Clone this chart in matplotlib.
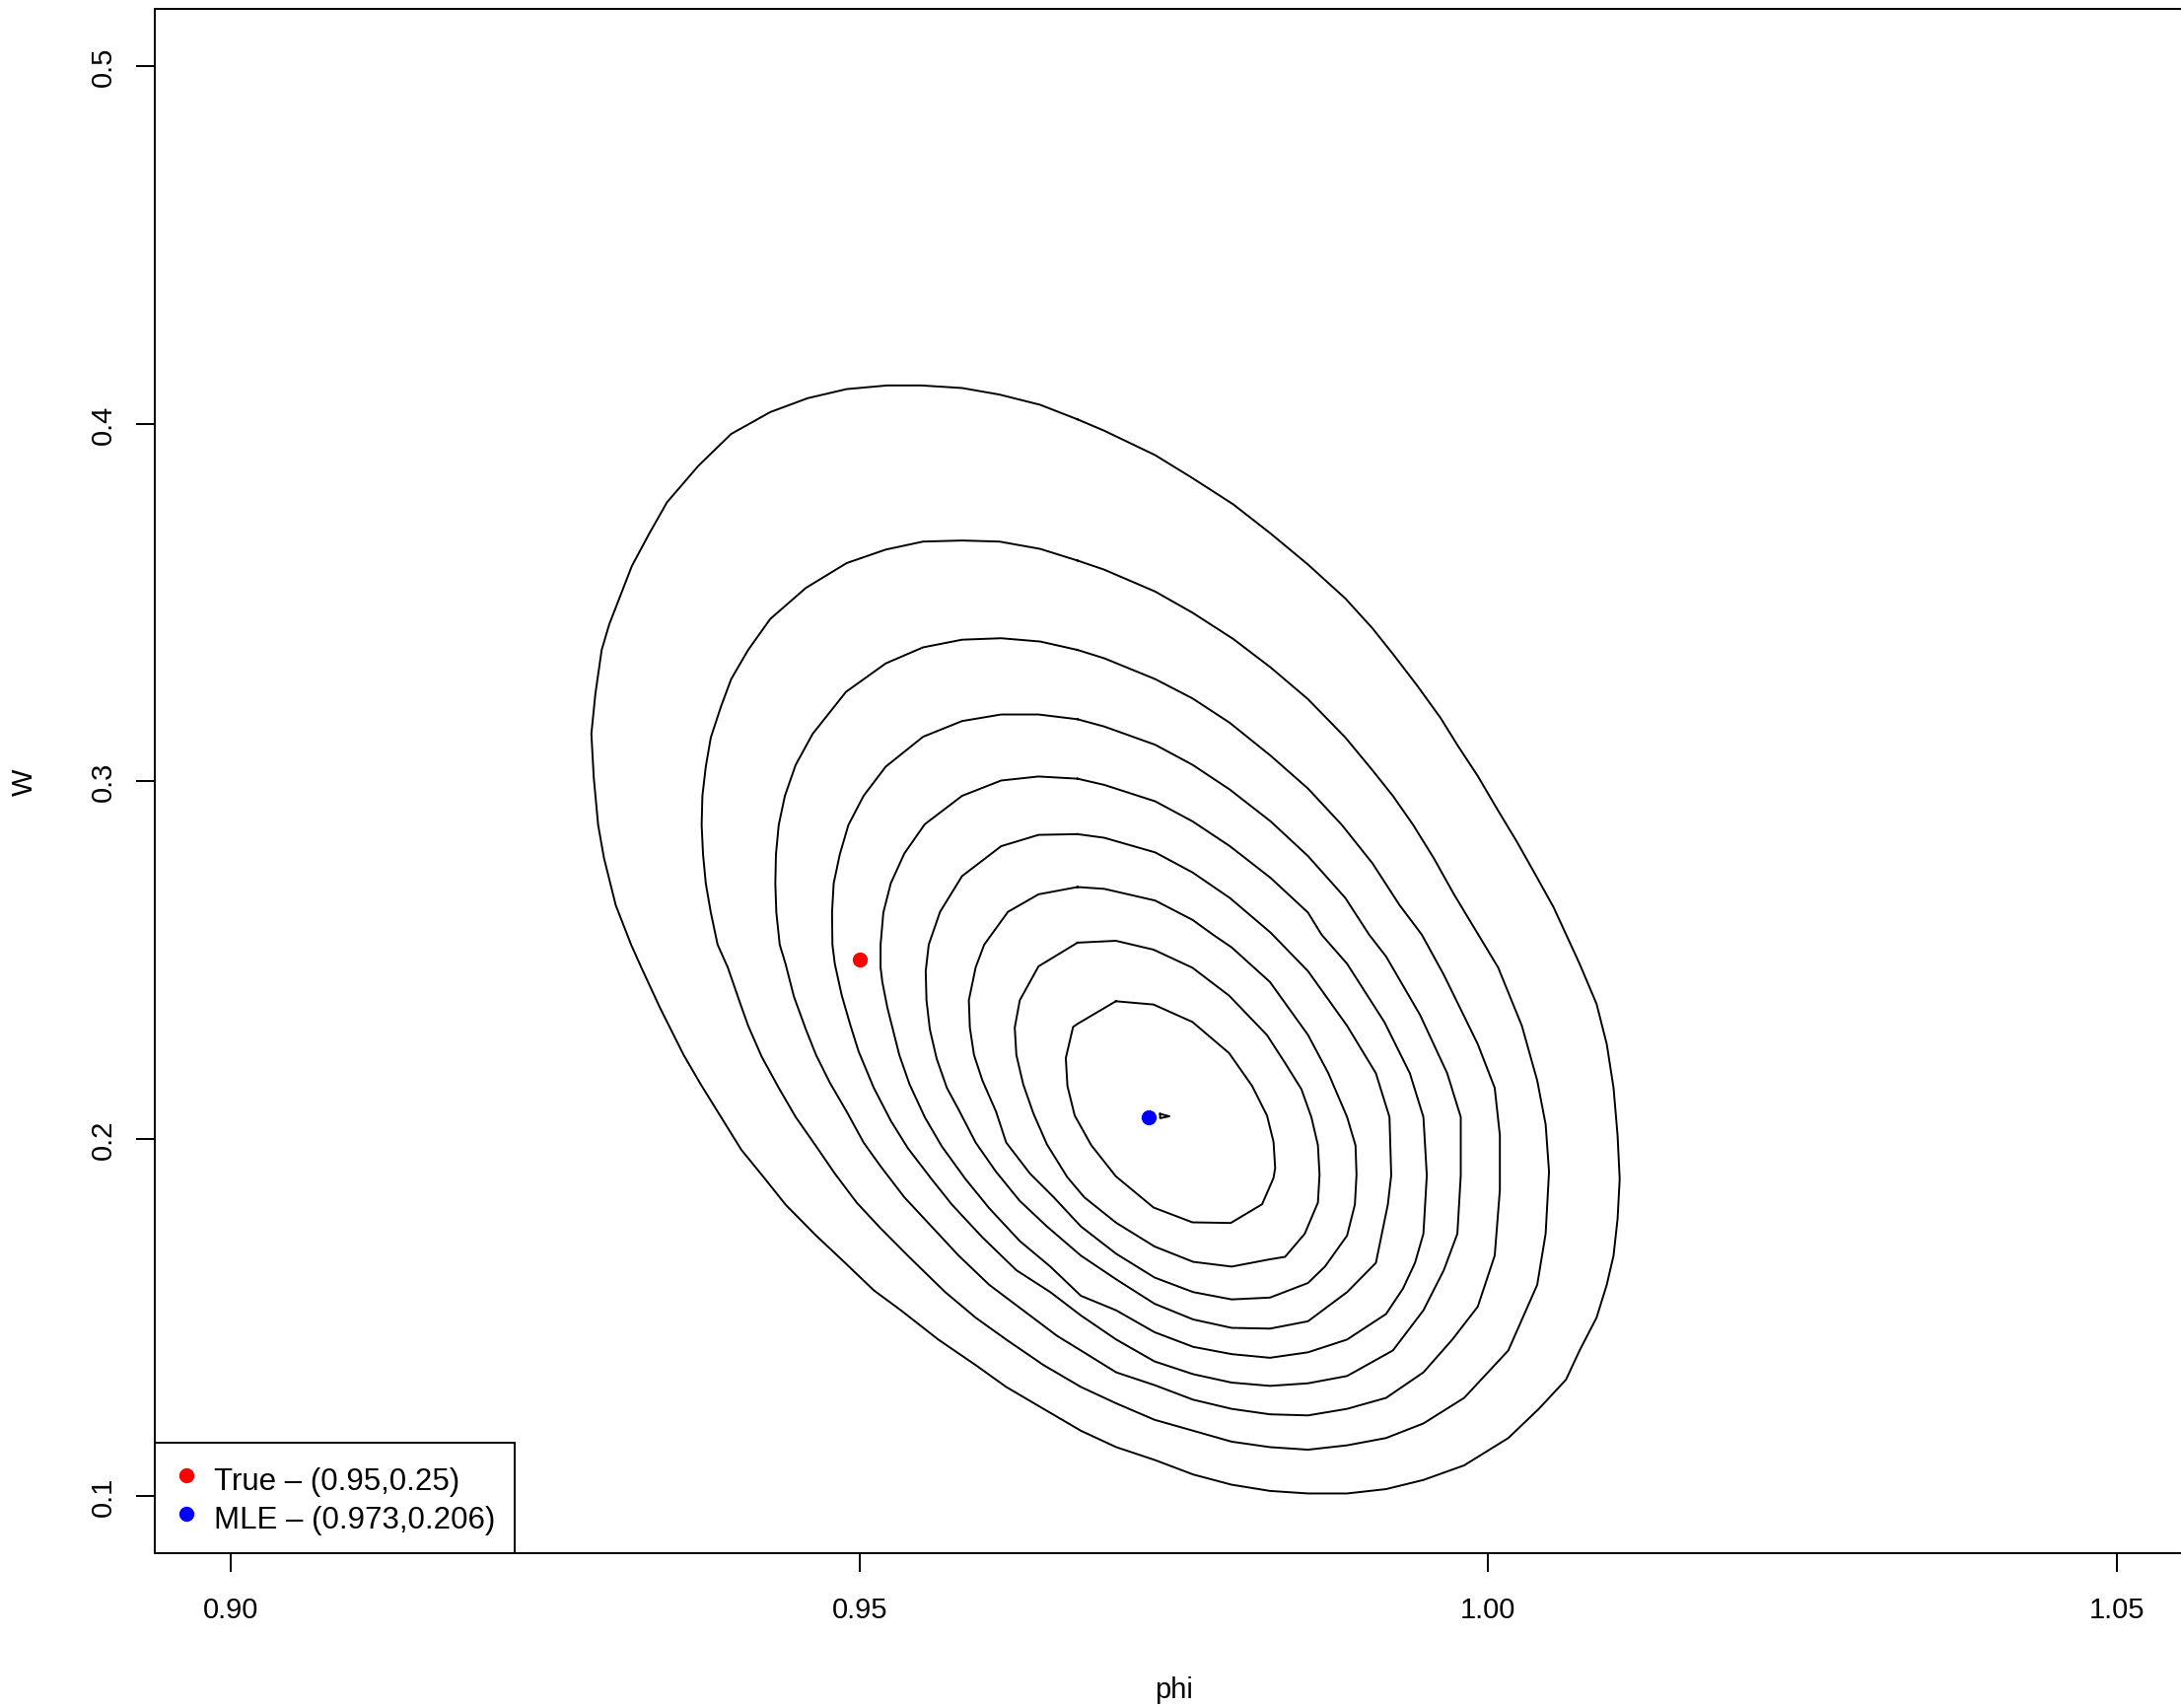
import matplotlib
matplotlib.use("Agg")
import matplotlib.pyplot as plt
import numpy as np

plt.rcParams["font.family"] = ["Liberation Sans", "DejaVu Sans"]

# contour lines of the likelihood surface (phi, W), outermost first
phi_c1 = [.96734, .96437, .96113, .95816, .95492, .95222, .94898, .94588, .94291, .93980, .93720, .93470, .93330, .93190, .93010, .92950, .92900, .92868, .92887, .92922, .92968, .93062, .93184,
          .93265, .93413, .93602, .93737, .93899, .94061, .94250, .94412, .94655, .94871, .95114, .95330, .95627, .95924, .96167, .96464, .96761,
          .97042, .97347, .97654, .97960, .98265, .98567, .98878, .99188, .99485, .99809, 1.00160, 1.00403, 1.00619, 1.00727, 1.00862, 1.00943, 1.00997, 1.01029, 1.01046, 1.01029, 1.00997, 1.00943, 1.00862, 1.00727,
          1.00520, 1.00375, 1.00228, 1.00079, .99917, .99755, .99620, .99431, .99242, .99080, .98864, .98567, .98270, .97973, .97649, .97352, .96947]
w_c1 = [.40118, .40526, .40812, .40995, .41067, .41067, .40965, .40710, .40322, .39710, .38822, .37801, .36934, .36015, .34383, .33668, .32444, .31321, .30096, .28770, .27851, .26525, .25423,
        .24786, .23663, .22336, .21520, .20601, .19683, .18867, .18152, .17285, .16571, .15754, .15193, .14376, .13662, .13050, .12437, .11825,
        .11366, .11009, .10601, .10315, .10141, .10070, .10070, .10192, .10448, .10856, .11621, .12437, .13254, .14070, .14989, .15907, .16724, .17744, .18867, .20091, .21418, .22642, .23765, .24888,
        .26469, .27387, .28305, .29172, .30141, .31008, .31773, .32691, .33558, .34272, .35108, .36057, .36924, .37740, .38474, .39117, .39800]

phi_c2 = [.96734, .96437, .96113, .95816, .95506, .95209, .94898, .94574, .94291, .94115, .93980, .93899, .93818, .93778, .93751, .93745, .93756, .93778, .93818, .93872,
          .93953, .94048, .94115, .94223, .94358, .94493, .94655, .94804, .94979, .95168, .95384, .95682, .95924, .96167, .96464, .96761,
          .97042, .97347, .97654, .97960, .98265, .98567, .98878, .99188, .99485, .99809, 1.00160, 1.00390, 1.00457, 1.00484, 1.00457, 1.00390, 1.00268, 1.00079,
          .99728, .99566, .99404, .99242, .99080, .98864, .98567, .98270, .97973, .97649, .97352, .96947]
w_c2 = [.36168, .36495, .36699, .36729, .36699, .36475, .36097, .35403, .34536, .33668, .32852, .32086, .31219, .30403, .29586, .28770, .27953, .27137, .26321, .25423,
        .24786, .23816, .23153, .22285, .21418, .20601, .19785, .19020, .18203, .17489, .16724, .15703, .14989, .14376, .13662, .13050,
        .12591, .12131, .11825, .11519, .11366, .11295, .11417, .11621, .12029, .12744, .14070, .15907, .17336, .19071, .20397, .21622, .23153, .24786,
        .26831, .27851, .28770, .29586, .30301, .31219, .32291, .33178, .33974, .34709, .35301, .35913]

phi_c3 = [.96734, .96437, .96127, .95816, .95506, .95209, .94893, .94628, .94493, .94407, .94358, .94336, .94331, .94339, .94366,
          .94412, .94479, .94574, .94655, .94763, .94898, .95033, .95168, .95357, .95573, .95789, .96032, .96302, .96572, .96761,
          .97042, .97347, .97654, .97960, .98265, .98567, .98878, .99188, .99485, .99715, .99917, 1.00052, 1.00093, 1.00093, 1.00052, .99917, .99647, .99472,
          .99296, .99080, .98837, .98567, .98270, .97946, .97649, .97352, .96947]
w_c3 = [.33668, .33903, .33995, .33954, .33740, .33291, .32495, .31321, .30454, .29586, .28770, .27953, .27137, .26321, .25423,
        .24888, .23969, .23051, .22336, .21571, .20755, .19887, .19224, .18356, .17540, .16724, .15907, .15193, .14478, .14070,
        .13458, .13101, .12693, .12437, .12284, .12254, .12437, .12744, .13458, .14376, .15295, .16724, .18560, .20091, .21418, .22642, .24581, .25704,
        .26525, .27698, .28770, .29790, .30709, .31627, .32311, .32852, .33434]

phi_c4 = [.96734, .96424, .96127, .95816, .95506, .95209, .95033, .94912, .94844, .94795, .94782, .94785,
          .94804, .94858, .94925, .94993, .95114, .95249, .95384, .95573, .95735, .95978, .96248, .96518, .96761,
          .97042, .97347, .97654, .97960, .98265, .98567, .98878, .99242, .99485, .99647, .99755, .99782, .99782, .99674, .99458, .99188, .99053,
          .98864, .98567, .98270, .97946, .97649, .97352, .96947]
w_c4 = [.31729, .31862, .31862, .31678, .31239, .30403, .29586, .28770, .27953, .27137, .26321, .25423,
        .24888, .24020, .23204, .22438, .21418, .20499, .19734, .18867, .18152, .17234, .16315, .15703, .15050,
        .14376, .13764, .13407, .13172, .13080, .13152, .13356, .14070, .15193, .16315, .17336, .18969, .20601, .21826, .23459, .25092, .25704,
        .26729, .27902, .28872, .29760, .30454, .31015, .31525]

phi_c5 = [.96734, .96424, .96127, .95816, .95519, .95357, .95249, .95190, .95168,
          .95168, .95182, .95222, .95317, .95398, .95519, .95654, .95843, .96032, .96275, .96518, .96761,
          .97042, .97347, .97654, .97960, .98265, .98567, .98878, .99188, .99323, .99418, .99485, .99512, .99485, .99377, .99175, .98878, .98675,
          .98567, .98270, .97946, .97649, .97352, .96947]
w_c5 = [.30066, .30127, .30015, .29586, .28790, .27974, .27137, .26321, .25423,
        .24786, .24377, .23663, .22336, .21520, .20601, .19785, .18867, .18050, .17132, .16417, .15600,
        .15193, .14581, .14172, .13968, .13866, .14019, .14376, .15091, .15805, .16520, .17336, .18969, .20601, .21826, .23255, .24888, .25704,
        .26321, .27290, .28178, .28872, .29433, .29892]

phi_c6 = [.96734, .96424, .96127, .95816, .95641, .95551,
          .95527, .95533, .95560, .95614, .95695, .95789, .95924, .96086, .96275, .96491, .96761,
          .97042, .97347, .97654, .97960, .98265, .98567, .98878, .99107, .99202, .99229, .99215, .99107, .98878, .98567,
          .98270, .97946, .97649, .97352, .96947]
w_c6 = [.28515, .28494, .28178, .27341, .26341, .25423,
        .24683, .23867, .23051, .22234, .21418, .20806, .19887, .19071, .18254, .17540, .16724,
        .16060, .15377, .14938, .14703, .14682, .14887, .15703, .16520, .18152, .18969, .20601, .21826, .23153, .24683,
        .25759, .26729, .27443, .28004, .28413]

phi_c7 = [.96734, .96424, .96181, .95992,
          .95924, .95870, .95878, .95911, .95978, .96086, .96167, .96356, .96545, .96761,
          .97042, .97347, .97654, .97960, .98265, .98567, .98702, .98878, .98940, .98953, .98945, .98878, .98729, .98567, .98265, .97960, .97811,
          .97649, .97352, .96947]
w_c7 = [.27035, .26831, .26341, .25423,
        .24786, .23867, .23102, .22336, .21622, .20755, .19887, .19020, .18356, .17540,
        .16775, .16111, .15703, .15499, .15550, .15958, .16417, .17285, .18152, .18989, .19806, .20601, .21826, .22898, .24377, .25347, .25704,
        .26116, .26657, .26984]

phi_c8 = [.96734, .97039, .97339, .97648, .97940, .98241, .98385, .98515, .98594, .98646, .98659, .98646, .98541, .98385, .98265, .97960, .97654, .97347, .97042,
          .96788, .96653, .96491, .96383, .96302, .96248, .96235, .96275, .96424]
w_c8 = [.25479, .25531, .25283, .24778, .23996, .22894, .22112, .21377, .20596, .19815, .18988, .18207, .17334, .16690, .16621, .16417, .16550, .16979, .17642,
        .18356, .18918, .19836, .20704, .21520, .22336, .23102, .23867, .24816]

phi_c9 = [.97039, .97339, .97648, .97940, .98123, .98241, .98293, .98306, .98293, .98202, .97953, .97648, .97339, .97039, .96843, .96712, .96654, .96641, .96699, .96738]
w_c9 = [.23840, .23748, .23261, .22388, .21469, .20642, .19907, .19172, .18896, .18161, .17637, .17655, .18069, .18942, .19815, .20642, .21469, .22250, .23123, .23215]

# tiny innermost level right next to the MLE
phi_c10 = [.97391, .97465, .97391]
w_c10 = [.20688, .20623, .20568]

contours = [(phi_c1, w_c1), (phi_c2, w_c2), (phi_c3, w_c3), (phi_c4, w_c4), (phi_c5, w_c5),
            (phi_c6, w_c6), (phi_c7, w_c7), (phi_c8, w_c8), (phi_c9, w_c9), (phi_c10, w_c10)]

true_phi, true_w = 0.95, 0.25
mle_phi, mle_w = 0.973, 0.206

x_ticks = [0.90, 0.95, 1.00, 1.05]
x_ticklabels = ["0.90", "0.95", "1.00", "1.05"]
y_ticks = [0.1, 0.2, 0.3, 0.4, 0.5]
y_ticklabels = ["0.1", "0.2", "0.3", "0.4", "0.5"]

fig = plt.figure(figsize=(22.12, 17.33), dpi=100)
ax = fig.add_axes([0.0712, 0.0906, 0.934, 0.9036])

for px, wy in contours:
    # close each loop
    ax.plot(np.append(px, px[0]), np.append(wy, wy[0]), color="black", lw=1.4)

ax.plot([true_phi], [true_w], "o", color="red", ms=10, label="True \u2013 (0.95,0.25)")
ax.plot([mle_phi], [mle_w], "o", color="blue", ms=10, label="MLE \u2013 (0.973,0.206)")

ax.set_xlim(0.894, 1.056)
ax.set_ylim(0.084, 0.516)

ax.set_xticks(x_ticks)
ax.set_xticklabels(x_ticklabels, fontsize=21)
ax.set_yticks(y_ticks)
ax.set_yticklabels(y_ticklabels, fontsize=21, rotation=90, va="center")
ax.tick_params(axis="both", direction="out", length=14, width=1.4, color="black")
ax.tick_params(axis="x", pad=17)
ax.tick_params(axis="y", pad=14)
for s in ax.spines.values():
    s.set_linewidth(1.4)

ax.set_xlabel("phi", fontsize=21)
ax.set_ylabel("W", fontsize=21)
ax.xaxis.set_label_coords(0.5, -0.079)
ax.yaxis.set_label_coords(-0.0574, 0.5)

leg = ax.legend(loc="lower left", bbox_to_anchor=(0, 0), borderaxespad=0, fontsize=22.5,
                fancybox=False, framealpha=1, edgecolor="black", handlelength=0.8,
                handleheight=1.25, handletextpad=0.5, borderpad=0.62, labelspacing=0.15,
                numpoints=1)
leg.get_frame().set_linewidth(1.4)

fig.savefig("out.png", dpi=100)
